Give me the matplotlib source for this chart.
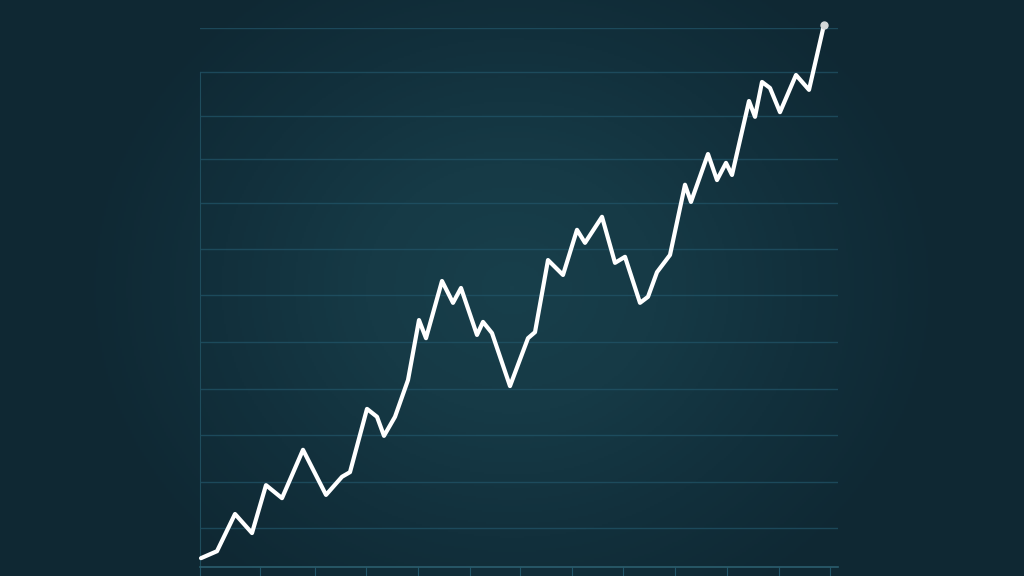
import numpy as np
import matplotlib
matplotlib.use('Agg')
import matplotlib.pyplot as plt
from matplotlib.colors import LinearSegmentedColormap

# data (x: time steps, y: value)
x = [1, 17, 35, 52, 66, 82, 103, 126, 142, 150, 167, 177, 184, 195, 208,
     219, 226, 242, 253, 261, 277, 283, 292, 310, 328, 335, 348, 363, 377,
     385, 402, 415, 425, 440, 448, 457, 470, 485, 491, 508, 517, 526, 532,
     549, 555, 562, 570, 580, 596, 609, 624]
y = [1.9, 3.4, 11.4, 7.3, 17.6, 14.8, 25.2, 15.5, 19.4, 20.4, 34.0, 32.3,
     28.2, 32.3, 40.2, 53.1, 49.2, 61.5, 56.8, 60.0, 49.9, 52.7, 50.3, 38.9,
     49.2, 50.5, 66.0, 62.8, 72.5, 69.7, 75.3, 65.4, 66.7, 56.8, 58.1, 63.4,
     67.1, 82.2, 78.5, 88.8, 83.2, 86.9, 84.3, 100.2, 96.8, 104.3, 103.0,
     97.8, 105.8, 102.6, 116.6]
grid_y = [8.4, 18.3, 28.4, 38.3, 48.4, 58.5, 68.4, 78.3, 87.7, 97.0, 106.5, 115.9]
tick_x = [0, 60, 115, 166, 218, 270, 320, 372, 423, 475, 527, 579, 630]

fig = plt.figure(figsize=(10.24, 5.76), dpi=100)

# background, soft vignette
bg = fig.add_axes([0, 0, 1, 1])
gx, gy = np.meshgrid(np.linspace(-1, 1, 512), np.linspace(-1, 1, 288))
r = np.sqrt((gx / 0.85) ** 2 + (gy / 1.3) ** 2)
cmap = LinearSegmentedColormap.from_list('bg', ['#183f4b', '#163a46', '#12303c', '#0f2833'])
bg.imshow(np.clip(r, 0, 1), cmap=cmap, aspect='auto', extent=[0, 1, 0, 1], vmin=0, vmax=1)
bg.axis('off')

ax = fig.add_axes([200 / 1024, 9 / 576, 638 / 1024, 539 / 576])
ax.patch.set_alpha(0)
ax.set_xlim(0, 638)
ax.set_ylim(0, 115.9)

for g in grid_y:
    ax.axhline(g, color='#22566a', lw=1.0, alpha=0.7, zorder=1)

ax.plot(x, y, color='white', lw=3.0, solid_joinstyle='round', solid_capstyle='round',
        clip_on=False, zorder=3)
ax.plot(x[-1], y[-1], 'o', color='#d4d8d8', ms=5, clip_on=False, zorder=4)

for s in ['top', 'right']:
    ax.spines[s].set_visible(False)
ax.spines['left'].set_color('#1f4d5d')
ax.spines['left'].set_bounds(0, 106.5)
ax.spines['bottom'].set_color('#2b5e6e')
ax.spines['bottom'].set_linewidth(1.2)
ax.set_xticks(tick_x)
ax.set_yticks([])
ax.tick_params(axis='x', direction='out', length=8, color='#22566a', labelbottom=False)

fig.savefig('out.png', dpi=100)
